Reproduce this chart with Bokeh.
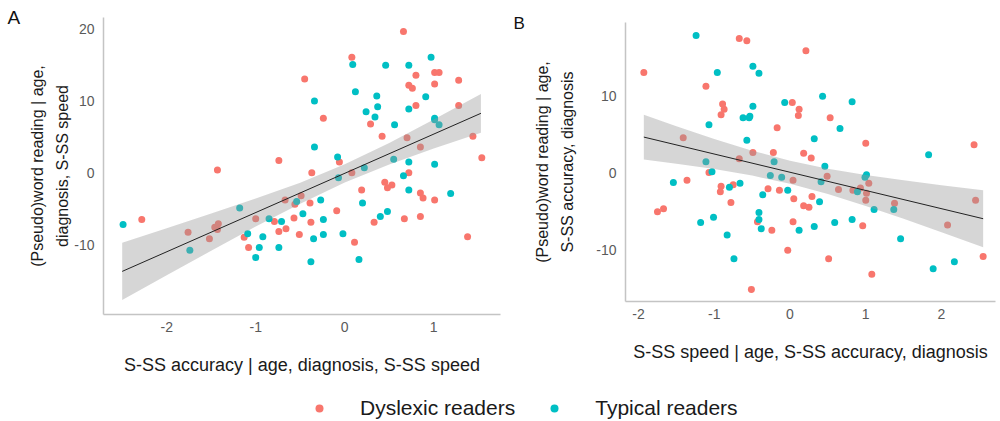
from bokeh.plotting import figure
from bokeh.models import Range1d, FixedTicker, Label, Legend, LegendItem
from bokeh.layouts import column, row
from bokeh.embed import file_html
from bokeh.resources import INLINE

# ---------------- data ----------------
groups = ["Dyslexic readers", "Typical readers"]
panel_tags = ["A", "B"]

# Panel A: S-SS accuracy (x) vs (pseudo)word reading (y)
a_dys_x = [-2.28, -1.76, -1.52, -1.43, -1.46, -1.42, -1.43, -1.00, -1.13, -1.08, -0.79, -0.74, -0.66, -0.67,
           -0.56, -0.49, -0.57, -0.39, -0.38, -0.51, -0.74, -0.45, -0.24, -0.37, -0.06, -0.09, 0.11, 0.08,
           0.08, 0.19, 0.29, 0.33, 0.42, 0.45, 0.53, 0.48, 0.66, 0.80, 0.72, 0.76, 0.80, 0.70, 0.85, 0.72,
           0.85, 0.88, 0.67, 0.85, 1.01, 1.06, 1.01, 1.01, 1.28, 1.28, 1.44, 1.54, 1.38]
a_dys_y = [-6.5, -8.3, -9.2, 0.4, -7.6, -7.1, -7.9, -6.4, -9.0, -10.4, -6.8, -8.2, -7.8, -3.8,
           -4.4, -3.2, -6.3, -4.2, -6.9, -8.6, 1.7, 13.1, 7.6, 0.0, 1.5, -5.3, -9.7, 16.1,
           0.0, -2.4, 6.8, -6.9, 5.1, -1.3, -1.7, -2.1, 19.7, 13.6, 12.2, 11.8, 9.4, 4.9, 3.6, 0.0,
           -2.8, -3.5, -6.4, -6.1, 14.0, 14.0, 12.4, -3.8, 12.9, 9.4, 5.1, 2.1, -8.9]
a_typ_x = [-2.49, -1.74, -1.18, -1.09, -0.96, -1.00, -0.92, -0.85, -0.71, -0.74, -0.54, -0.47, -0.27, -0.24,
           -0.35, -0.24, -0.38, -0.02, 0.16, 0.20, 0.40, 0.48, 0.72, 0.66, 1.01, 1.19, 0.72, 0.55,
           -0.08, -0.07, 0.22, -0.34, -0.34, 0.09, 0.12, 0.24, 0.36, 0.37, 0.34, 0.46, 0.56, 0.72,
           0.72, 0.91, 0.97, 1.01, 1.01, 1.06]
a_typ_y = [-7.2, -10.8, -4.9, -8.5, -10.4, -11.8, -8.9, -6.4, -6.8, -10.4, -4.0, -5.7, -3.8, -6.5,
           -9.2, -8.6, -12.4, -8.5, -12.1, -4.2, -6.1, -5.4, -2.4, -0.4, 1.2, -2.9, 1.5, 1.9,
           2.2, -0.7, 0.7, 3.6, 10.0, 15.1, 11.3, 8.5, 10.7, 9.2, 7.8, 15.0, 6.7, 15.0,
           8.9, 10.6, 16.1, 7.6, 7.4, 6.7]
a_fit_x = [-2.5, 1.53]
a_fit_y = [-13.75, 8.30]
a_band_x = [-2.5, -2.0, -1.5, -1.0, -0.5, 0.0, 0.5, 1.0, 1.53]
a_band_lo = [-17.75, -14.29, -10.87, -7.50, -4.30, -1.34, 1.16, 3.38, 5.60]
a_band_hi = [-9.75, -7.73, -5.69, -3.58, -1.38, 1.20, 4.16, 7.42, 11.00]

# Panel B: S-SS speed (x) vs (pseudo)word reading (y)
b_dys_x = [-0.67, -0.57, -1.93, 0.21, -1.11, -0.89, -0.87, -0.91, 0.03, 0.12, 0.11, 0.53, -0.17, -1.41,
           1.00, -0.49, -0.22, 0.18, 0.28, -0.67, 2.43, -1.07, -1.36, -0.91, -0.92, -0.75, 0.04, 0.49,
           1.04, 0.93, 1.01, 1.00, 0.64, 0.83, -0.29, -0.14, 0.05, 0.18, 0.25, 0.29, -0.78, -1.75,
           -1.67, -0.43, -0.24, 0.04, -0.03, 0.51, -0.51, 0.96, 1.08, 1.38, 2.08, 2.45, 2.55]
b_dys_y = [17.4, 17.1, 13.0, 15.8, 11.2, 8.9, 8.2, 7.5, 9.1, 8.2, 7.4, 7.1, 5.8, 4.5,
           3.8, 2.6, 2.6, 2.5, 1.9, 1.8, 3.6, 0.0, -1.0, -1.8, -2.5, -1.6, -1.0, -0.5,
           -1.4, -2.0, -2.7, -3.6, -2.2, -2.3, -2.1, -2.3, -3.4, -4.3, -4.5, -3.1, -3.9, -5.1,
           -4.7, -6.4, -7.5, -6.4, -10.1, -11.2, -15.2, -6.9, -13.2, -4.0, -6.8, -3.6, -10.9]
b_typ_x = [-1.24, -0.96, -0.49, -0.41, 0.43, 0.82, -0.49, -0.62, -0.54, -0.53, -0.07, -1.07, 0.66, 0.32,
           -0.57, -1.11, -0.21, 1.83, 0.46, -1.03, -1.54, -0.80, -0.66, -0.26, -0.11, 0.41, 1.01, 0.99,
           0.89, -0.36, -0.03, 0.39, -1.18, -1.01, -0.83, -0.74, -0.41, -0.41, -0.38, 0.12, 0.32, 0.59,
           0.82, 1.11, 1.37, 1.46, 1.89, 2.17]
b_typ_y = [17.8, 13.0, 13.8, 12.9, 9.9, 9.2, 8.6, 7.1, 7.1, 7.3, 9.1, 6.2, 5.7, 4.4,
           4.2, 1.4, 1.4, 2.3, 0.8, 0.1, -1.3, -1.9, -1.4, -0.4, -0.6, -1.2, -0.3, -0.6,
           -2.5, -2.9, -2.3, -3.8, -6.5, -5.8, -8.1, -11.2, -5.2, -6.1, -7.3, -7.5, -7.0, -6.5,
           -6.1, -4.8, -4.8, -8.6, -12.5, -11.6]
b_fit_x = [-1.93, 2.55]
b_fit_y = [4.60, -6.00]
b_band_x = [-1.93, -1.5, -1.0, -0.5, 0.0, 0.5, 1.0, 1.5, 2.0, 2.55]
b_band_lo = [1.70, 1.14, 0.44, -0.40, -1.47, -2.80, -4.35, -6.02, -7.76, -9.70]
b_band_hi = [7.50, 6.02, 4.36, 2.84, 1.53, 0.50, -0.31, -1.00, -1.64, -2.30]

a_xticks = [-2, -1, 0, 1]
a_xtick_labels = ["-2", "-1", "0", "1"]
a_yticks = [-10, 0, 10, 20]
a_ytick_labels = ["-10", "0", "10", "20"]
b_xticks = [-2, -1, 0, 1, 2]
b_xtick_labels = ["-2", "-1", "0", "1", "2"]
b_yticks = [-10, 0, 10]
b_ytick_labels = ["-10", "0", "10"]

# ---------------- style ----------------
RED = "#F8766D"
TEAL = "#00BFC4"
FONT = "Liberation Sans"
AXIS_GREY = "#c4c4c4"
TICK_TXT = "#5a5a5a"
H = 390


def style_axis(ax, ticks, labels, label_standoff, title_standoff, title_size, line_height):
    ax.ticker = FixedTicker(ticks=ticks)
    ax.major_label_overrides = {t: l for t, l in zip(ticks, labels)}
    ax.axis_line_color = AXIS_GREY
    ax.axis_line_width = 1.5
    ax.major_tick_line_color = None
    ax.minor_tick_line_color = None
    ax.major_tick_out = 0
    ax.major_tick_in = 0
    ax.major_label_text_font = FONT
    ax.major_label_text_font_size = "14px"
    ax.major_label_text_color = TICK_TXT
    ax.major_label_standoff = label_standoff
    ax.axis_label_text_font = FONT
    ax.axis_label_text_font_style = "normal"
    ax.axis_label_text_font_size = title_size
    ax.axis_label_text_color = "#1a1a1a"
    ax.axis_label_standoff = title_standoff
    ax.axis_label_text_line_height = line_height


def panel(width, mb, xr, yr, dys, typ, fit, band, xt, yt, xlab, ylab, y_title_standoff):
    p = figure(width=width, height=H, output_backend="svg", toolbar_location=None,
               x_range=Range1d(*xr), y_range=Range1d(*yr),
               min_border_left=mb[0], min_border_right=mb[1], min_border_top=mb[2],
               min_border_bottom=mb[3])
    p.outline_line_color = None
    p.grid.visible = False
    p.scatter(dys[0], dys[1], size=7, fill_color=RED, line_color=None)
    p.scatter(typ[0], typ[1], size=7, fill_color=TEAL, line_color=None)
    p.varea(x=band[0], y1=band[1], y2=band[2], fill_color="#999999", fill_alpha=0.4)
    p.line(fit[0], fit[1], line_color="#222222", line_width=1)
    style_axis(p.xaxis[0], xt[0], xt[1], 7, 20, "18px", 1.2)
    style_axis(p.yaxis[0], yt[0], yt[1], 9, y_title_standoff, "16px", 1.5)
    p.xaxis[0].axis_label = xlab
    p.yaxis[0].axis_label = ylab
    return p


def tag_strip(width, tag, x, baseline, size):
    # narrow canvas whose frame is the whole strip, y measured downward in pixels
    s = figure(width=width, height=H, output_backend="svg", toolbar_location=None,
               x_range=Range1d(0, width), y_range=Range1d(H, 0),
               min_border_left=0, min_border_right=0, min_border_top=0, min_border_bottom=0)
    s.axis.visible = False
    s.grid.visible = False
    s.outline_line_color = None
    s.add_layout(Label(x=x, y=baseline, text=tag, text_font=FONT, text_font_size=size,
                       text_color="#111111", text_baseline="alphabetic", text_align="left"))
    return s


tagA = tag_strip(21, panel_tags[0], 7, 17, "19px")
pA = panel(489, (82, 10, 17, 76), (-2.71, 1.75), (-19.76, 21.66),
           (a_dys_x, a_dys_y), (a_typ_x, a_typ_y), (a_fit_x, a_fit_y),
           (a_band_x, a_band_lo, a_band_hi), (a_xticks, a_xtick_labels), (a_yticks, a_ytick_labels),
           "S-SS accuracy | age, diagnosis, S-SS speed",
           "(Pseudo)word reading | age,\ndiagnosis, S-SS speed", 0)

tagB = tag_strip(16, panel_tags[1], 3, 23, "17px")
pB = panel(474, (99, 5, 22, 89), (-2.172, 2.713), (-16.75, 19.48),
           (b_dys_x, b_dys_y), (b_typ_x, b_typ_y), (b_fit_x, b_fit_y),
           (b_band_x, b_band_lo, b_band_hi), (b_xticks, b_xtick_labels), (b_yticks, b_ytick_labels),
           "S-SS speed | age, S-SS accuracy, diagnosis",
           "(Pseudo)word reading | age,\nS-SS accuracy, diagnosis", 17)

# legend strip (its renderers hold the group data but the view range keeps them off-canvas)
pL = figure(width=1000, height=31, output_backend="svg", toolbar_location=None,
            x_range=Range1d(100, 101), y_range=Range1d(100, 101),
            min_border_left=0, min_border_right=0, min_border_top=0, min_border_bottom=0)
pL.axis.visible = False
pL.grid.visible = False
pL.outline_line_color = None
rl_d = pL.scatter(a_dys_x, a_dys_y, size=8, fill_color=RED, line_color=None)
rl_t = pL.scatter(a_typ_x, a_typ_y, size=8, fill_color=TEAL, line_color=None)
leg = Legend(items=[LegendItem(label=groups[0], renderers=[rl_d]),
                    LegendItem(label=groups[1], renderers=[rl_t])],
             orientation="horizontal", location=(309, 1),
             padding=0, margin=0, spacing=29, glyph_width=20, glyph_height=24, label_height=24,
             label_standoff=31, label_text_font=FONT, label_text_font_size="21px",
             label_text_color="#1a1a1a", border_line_color=None, background_fill_alpha=0)
pL.add_layout(leg, "center")

layout = column(row(column(tagA), column(pA), column(tagB), column(pB)), pL)
open("out.html", "w").write(file_html(layout, INLINE))
